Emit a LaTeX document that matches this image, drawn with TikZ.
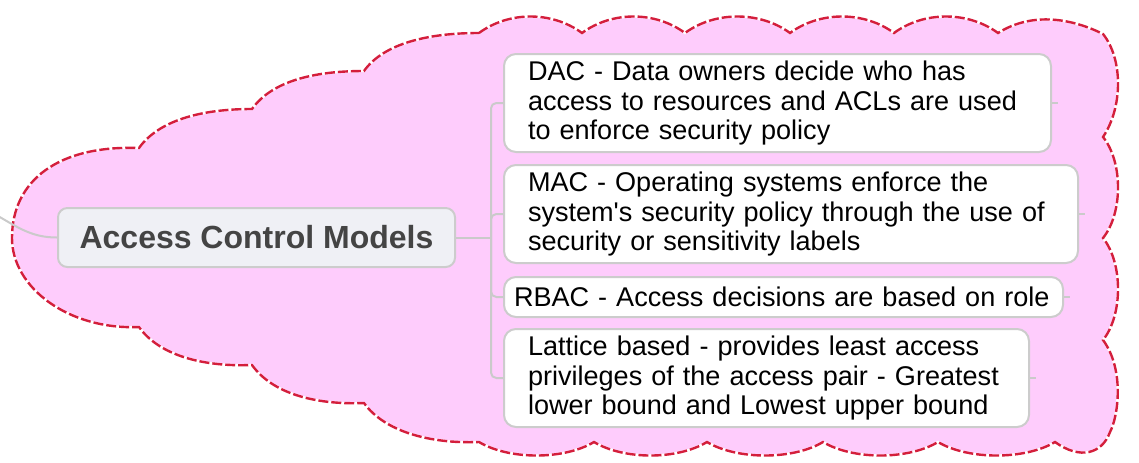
\documentclass[tikz,border=0pt]{standalone}
\usepackage{fontspec}
\setmainfont{Liberation Sans}
\usetikzlibrary{positioning}
\definecolor{cloudfill}{HTML}{FECCFC}
\definecolor{cloudline}{HTML}{D41E3C}
\definecolor{boxline}{HTML}{CCCCCC}
\definecolor{rootfill}{HTML}{EFF0F5}
\definecolor{roottext}{HTML}{444444}
\definecolor{branchline}{HTML}{CACACA}

\begin{document}
\begin{tikzpicture}
	[x=0.75pt,y=-0.75pt,
		cloud/.style={fill=cloudfill,draw=white,line width=1.8pt,
			postaction={draw=cloudline,line width=1.8pt,dash pattern=on 7.5pt off 2.25pt}},
		root node/.style={draw=boxline,line width=1.5pt,fill=rootfill,rounded corners=7pt,
			minimum width=297.75pt,minimum height=44.25pt,text=roottext,
			font=\fontsize{24pt}{28pt}\selectfont\bfseries},
		leaf node/.style={draw=boxline,line width=1.5pt,fill=white,rounded corners=9pt,
			anchor=north west,inner xsep=0pt,inner ysep=0pt,minimum height=73.5pt,align=left,
			font=\fontsize{20.3pt}{21.8pt}\selectfont,execute at begin node={\leftskip=#1}},
		leaf node/.default=18pt,
		branch/.style={draw=branchline,line width=1.5pt,rounded corners=4pt}]

	\useasboundingbox (0,0) rectangle (1139,462);

	\draw[cloud] (479,33)
		.. controls +(30,-22) and +(-30,-22) .. (582,33)
		.. controls +(30,-22) and +(-30,-22) .. (685,33)
		.. controls +(30,-22) and +(-30,-22) .. (790,33)
		.. controls +(30,-22) and +(-30,-22) .. (894,33)
		.. controls +(30,-22) and +(-30,-22) .. (998,33)
		.. controls +(35,-22) and +(-30,-15) .. (1103,34)
		.. controls +(20,25) and +(20,-30) .. (1103,137)
		.. controls +(20,25) and +(20,-25) .. (1103,238)
		.. controls +(20,25) and +(20,-25) .. (1103,340)
		.. controls +(22,30) and +(8,-15) .. (1110,432)
		.. controls +(-8,22) and +(25,18) .. (1055,442)
		.. controls +(-30,18) and +(30,18) .. (938,442)
		.. controls +(-30,18) and +(30,18) .. (823,442)
		.. controls +(-30,18) and +(30,18) .. (707,442)
		.. controls +(-30,18) and +(30,18) .. (594,442)
		.. controls +(-30,18) and +(30,18) .. (479,442)
		.. controls +(-50,2) and +(20,28) .. (364,403)
		.. controls +(-50,2) and +(20,28) .. (252,365)
		.. controls +(-50,2) and +(20,28) .. (139,327)
		.. controls +(-70,3) and +(0,50) .. (12,238)
		.. controls +(0,-58) and +(-80,-3) .. (139,148)
		.. controls +(20,-28) and +(-50,0) .. (252,109)
		.. controls +(20,-28) and +(-50,0) .. (364,71)
		.. controls +(20,-28) and +(-50,0) .. (479,33)
		-- cycle;

	\node[root node] (root) at (256.5,237.5) {Access Control Models};
	\node[leaf node, text width=410.25pt] (dac) at (503,53)
		{DAC - Data owners decide who has\\access to resources and ACLs are used\\to enforce security policy};
	\node[leaf node, text width=430.5pt] (mac) [below right=8.25pt and 0pt of dac.south west]
		{MAC - Operating systems enforce the\\system\textquotesingle s security policy through the use of\\security or sensitivity labels};
	\node[leaf node=7.5pt, text width=419.25pt, minimum height=30pt] (rbac) [below right=9pt and 0pt of mac.south west]
		{RBAC - Access decisions are based on role};
	\node[leaf node, text width=393.75pt] (lattice) [below right=7.5pt and 0pt of rbac.south west]
		{Lattice based - provides least access\\privileges of the access pair - Greatest\\lower bound and Lowest upper bound};

	\coordinate (parent) at (-2,216);
	\coordinate[right=26.25pt of root.east] (fork);

	\draw[branch] (parent) to[out=-30,in=180] (root.west);
	\draw[branch] (root.east) -- (fork);
	\foreach \leaf in {dac,mac,rbac,lattice}
	{
		\coordinate[right=4.5pt of \leaf.east] (\leaf stub);
		\draw[branch] (fork) |- (\leaf.west);
		\draw[branch] (\leaf.east) -- (\leaf stub);
	}

\end{tikzpicture}
\end{document}
